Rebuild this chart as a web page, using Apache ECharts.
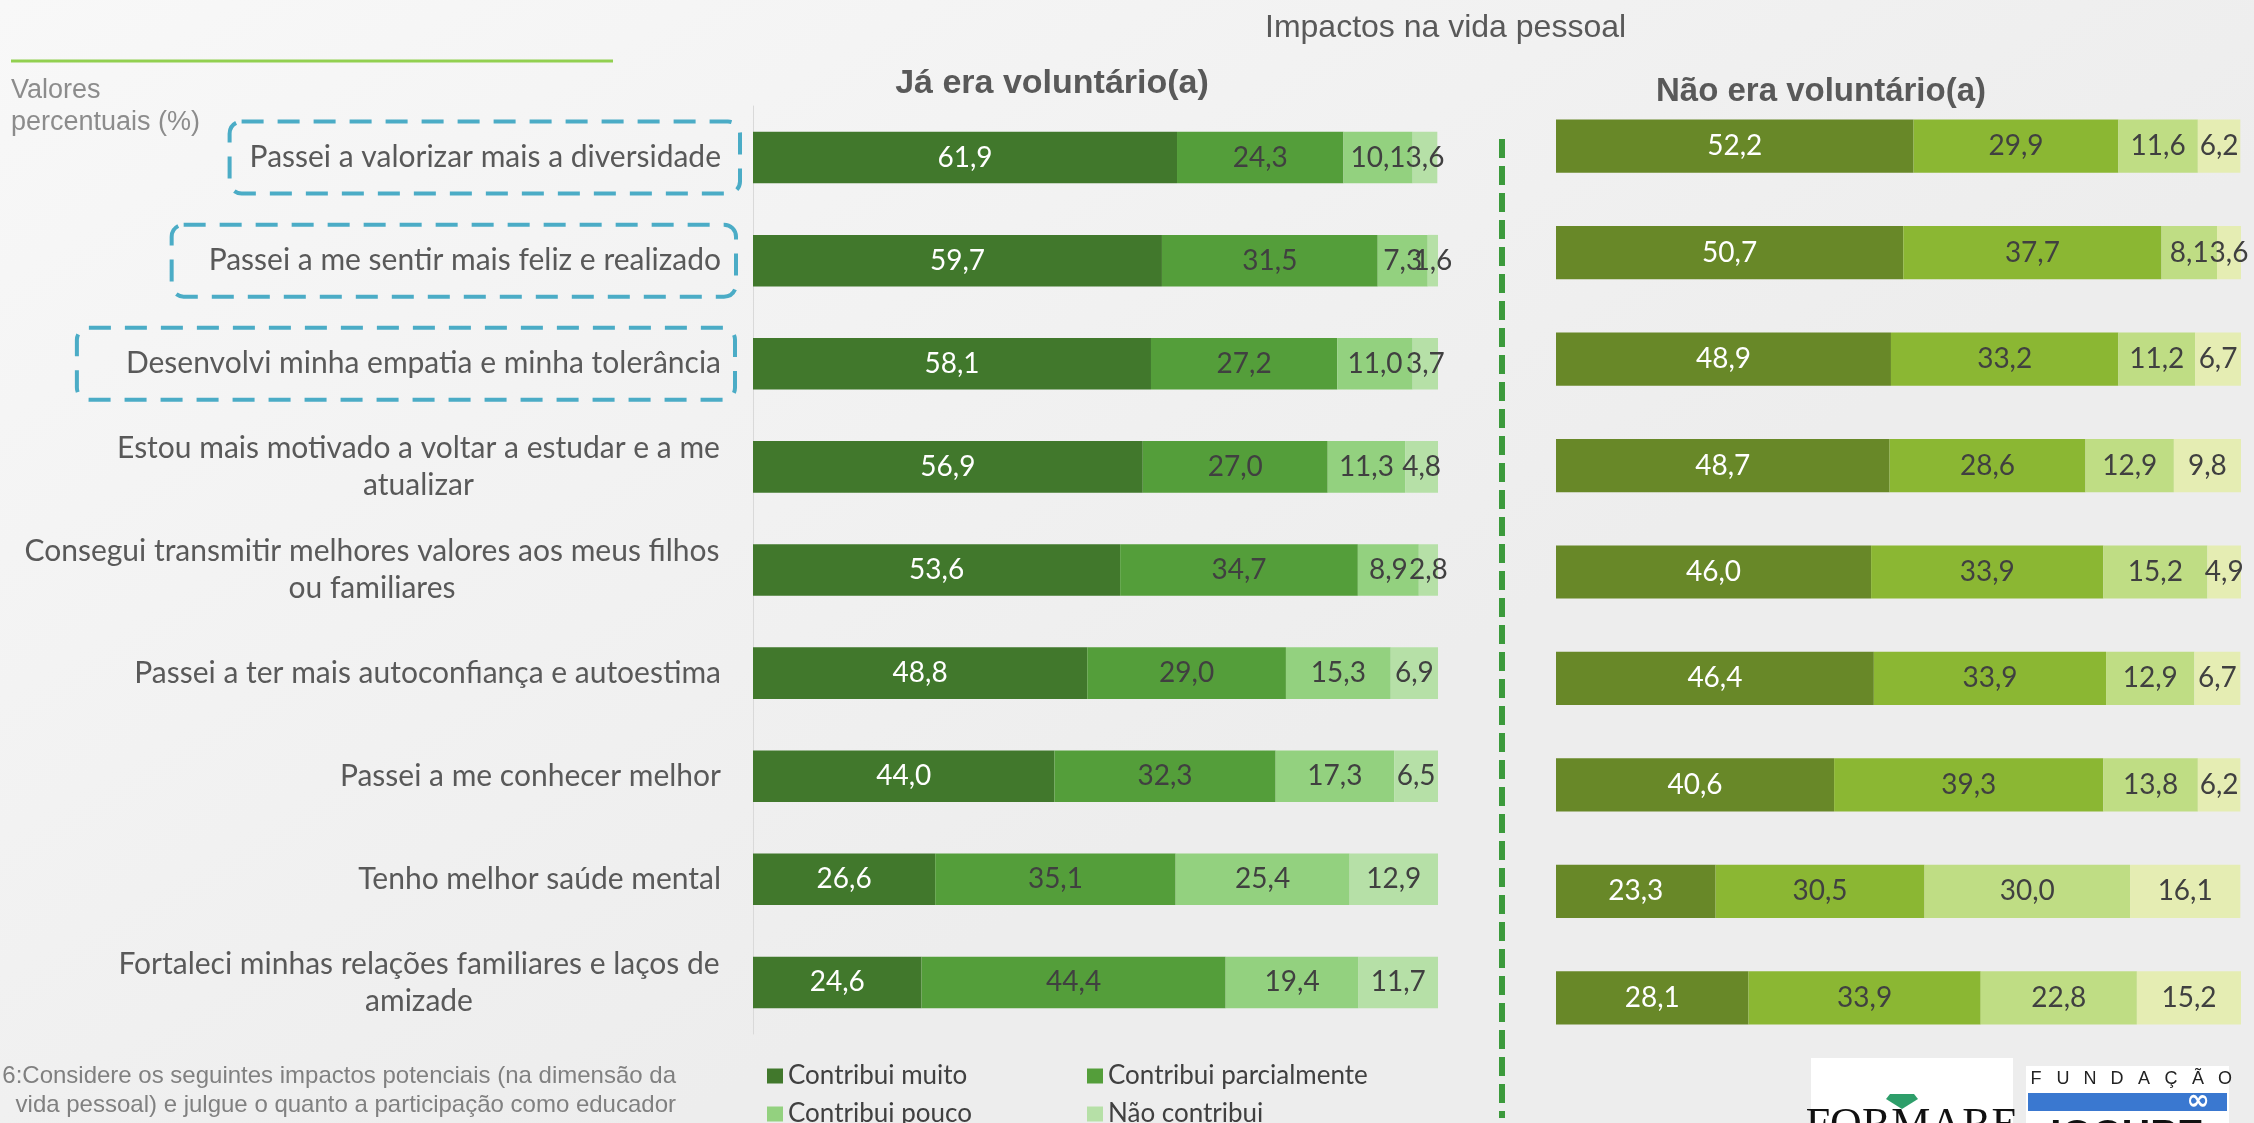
<!DOCTYPE html>
<html>
<head>
<meta charset="utf-8">
<script src="https://cdn.jsdelivr.net/npm/echarts@6/dist/echarts.min.js"></script>
<style>
html,body{margin:0;padding:0;background:#F5F5F5;}
#chart{width:2254px;height:1123px;}
</style>
</head>
<body>
<div id="chart"></div>
<script>
// ---------- DATA ----------
const categories = [
  'Passei a valorizar mais a diversidade',
  'Passei a me sentir mais feliz e realizado',
  'Desenvolvi minha empatia e minha tolerância',
  'Estou mais motivado a voltar a estudar e a me\natualizar',
  'Consegui transmitir melhores valores aos meus filhos\nou familiares',
  'Passei a ter mais autoconfiança e autoestima',
  'Passei a me conhecer melhor',
  'Tenho melhor saúde mental',
  'Fortaleci minhas relações familiares e laços de\namizade'
];
const seriesNames = ['Contribui muito', 'Contribui parcialmente', 'Contribui pouco', 'Não contribui'];
const highlighted = [0, 1, 2];

// Já era voluntário(a)
const jaMuito    = [61.9, 59.7, 58.1, 56.9, 53.6, 48.8, 44.0, 26.6, 24.6];
const jaParcial  = [24.3, 31.5, 27.2, 27.0, 34.7, 29.0, 32.3, 35.1, 44.4];
const jaPouco    = [10.1,  7.3, 11.0, 11.3,  8.9, 15.3, 17.3, 25.4, 19.4];
const jaNao      = [ 3.6,  1.6,  3.7,  4.8,  2.8,  6.9,  6.5, 12.9, 11.7];

// Não era voluntário(a)
const naoMuito   = [52.2, 50.7, 48.9, 48.7, 46.0, 46.4, 40.6, 23.3, 28.1];
const naoParcial = [29.9, 37.7, 33.2, 28.6, 33.9, 33.9, 39.3, 30.5, 33.9];
const naoPouco   = [11.6,  8.1, 11.2, 12.9, 15.2, 12.9, 13.8, 30.0, 22.8];
const naoNao     = [ 6.2,  3.6,  6.7,  9.8,  4.9,  6.7,  6.2, 16.1, 15.2];

const titleText = 'Impactos na vida pessoal';
const leftTitle = 'Já era voluntário(a)';
const rightTitle = 'Não era voluntário(a)';
const unitText = 'Valores\npercentuais (%)';
const noteLines = [
  '6:Considere os seguintes impactos potenciais (na dimensão da',
  'vida pessoal) e julgue o quanto a participação como educador'
];

// ---------- STYLE ----------
const leftColors  = ['#41782C', '#549E3A', '#93D17F', '#B6E0A7'];
const rightColors = ['#688828', '#8BB733', '#BFDD84', '#E5EDB3'];
const labelColors = ['#FFFFFF', '#404040', '#404040', '#404040'];
const catFont = 30;
const catFamily = 'Lato';
const catColor = '#595959';
const catLineHeight = 37;
const valFont = 28;
const boxLeftPad = [20, 37, 49];
const boxRight = [740, 736, 735];

const measureCtx = document.createElement('canvas').getContext('2d');
function textWidth(t, size, family, weight) {
  measureCtx.font = (weight || 'normal') + ' ' + size + 'px ' + family;
  return measureCtx.measureText(t).width;
}

// rich styles so that wrapped labels have their lines centred
const rich = {};
categories.forEach((c, i) => {
  const lines = c.split('\n');
  if (lines.length > 1) {
    const w = Math.max.apply(null, lines.map(l => textWidth(l, catFont, catFamily)));
    rich['w' + i] = {width: Math.ceil(w) + 2, align: 'center', fontSize: catFont,
                     fontFamily: catFamily, color: catColor, lineHeight: catLineHeight};
  }
});

const fmt = v => v.toFixed(1).replace('.', ',');

function makeSeries(name, data, color, lblColor, axisIdx, stack) {
  return {
    type: 'bar', name: name, stack: stack, data: data,
    xAxisIndex: axisIdx, yAxisIndex: axisIdx,
    barWidth: '50%',
    itemStyle: {color: color},
    label: {show: true, position: 'inside', color: lblColor, fontSize: valFont,
            fontFamily: catFamily, formatter: p => fmt(p.value)},
    emphasis: {disabled: true},
    animation: false
  };
}

const leftData = [jaMuito, jaParcial, jaPouco, jaNao];
const rightData = [naoMuito, naoParcial, naoPouco, naoNao];
const series = [];
seriesNames.forEach((n, k) => series.push(makeSeries(n, leftData[k], leftColors[k], labelColors[k], 0, 'ja')));
seriesNames.forEach((n, k) => series.push(makeSeries(n, rightData[k], rightColors[k], labelColors[k], 1, 'nao')));

// legend: 2 x 2 layout, one legend per item
const legendPos = [[762, 1058], [1082, 1058], [762, 1096], [1082, 1096]];
const legends = seriesNames.map((n, k) => ({
  orient: 'horizontal', left: legendPos[k][0], top: legendPos[k][1],
  itemWidth: 16, itemHeight: 15, icon: 'rect', selectedMode: false,
  textStyle: {fontSize: 26, fontFamily: catFamily, color: '#404040'},
  data: [n]
}));

const baseGraphics = [
  {type: 'line', shape: {x1: 11, y1: 61, x2: 613, y2: 61}, style: {stroke: '#92D050', lineWidth: 3}},
  {type: 'text', x: 11, y: 75, style: {text: unitText, font: '27px "Liberation Sans"', fill: '#8C8C8C', lineHeight: 32, textVerticalAlign: 'top'}},
  {type: 'text', x: 1265, y: 28, style: {text: titleText, font: '32px "Liberation Sans"', fill: '#595959', textVerticalAlign: 'middle'}},
  {type: 'text', x: 1052, y: 84, style: {text: leftTitle, font: 'bold 34px "Liberation Sans"', fill: '#595959', textAlign: 'center', textVerticalAlign: 'middle'}},
  {type: 'text', x: 1821, y: 92, style: {text: rightTitle, font: 'bold 33px "Liberation Sans"', fill: '#595959', textAlign: 'center', textVerticalAlign: 'middle'}},
  {type: 'line', shape: {x1: 1502, y1: 139, x2: 1502, y2: 1118}, style: {stroke: '#3C9A3C', lineWidth: 6, lineDash: [19, 8]}},
  {type: 'text', x: 676, y: 1076, style: {text: noteLines[0], font: '24px "Liberation Sans"', fill: '#808080', textAlign: 'right', textVerticalAlign: 'middle'}},
  {type: 'text', x: 676, y: 1105, style: {text: noteLines[1], font: '24px "Liberation Sans"', fill: '#808080', textAlign: 'right', textVerticalAlign: 'middle'}},
  // logos
  {type: 'rect', shape: {x: 1811, y: 1058, width: 202, height: 70}, style: {fill: '#FFFFFF'}},
  {type: 'polygon', shape: {points: [[1890, 1094], [1914, 1094], [1918, 1099], [1902, 1109], [1886, 1099]]}, style: {fill: '#2E9E6A'}},
  {type: 'text', x: 1912, y: 1104, style: {text: 'FORMARE', font: '44px "Liberation Serif"', fill: '#111111', textAlign: 'center', textVerticalAlign: 'top'}},
  {type: 'rect', shape: {x: 2026, y: 1066, width: 203, height: 60}, style: {fill: '#FFFFFF'}},
  {type: 'rect', shape: {x: 2028, y: 1093, width: 199, height: 18}, style: {fill: '#3A78D0'}},
  {type: 'text', x: 2198, y: 1102, style: {text: '∞', font: 'bold 28px "DejaVu Sans"', fill: '#FFFFFF', textAlign: 'center', textVerticalAlign: 'middle'}},
  {type: 'text', x: 2127, y: 1117, style: {text: 'IOCHPE', font: 'bold 40px "Liberation Sans"', fill: '#111111', textAlign: 'center', textVerticalAlign: 'top'}}
];
'FUNDAÇÃO'.split('').forEach((ch, i) => {
  baseGraphics.push({type: 'text', x: 2036 + i * 27, y: 1079,
    style: {text: ch, font: '18px "Liberation Sans"', fill: '#222222', textAlign: 'center', textVerticalAlign: 'middle'}});
});

const option = {
  backgroundColor: {type: 'linear', x: 0, y: 0, x2: 0.3, y2: 1,
    colorStops: [{offset: 0, color: '#F8F8F8'}, {offset: 1, color: '#EDEDED'}]},
  animation: false,
  grid: [
    {left: 753, width: 685, top: 106, height: 928},
    {left: 1556, width: 685, top: 93, height: 958}
  ],
  xAxis: [
    {type: 'value', gridIndex: 0, min: 0, max: 100, show: false},
    {type: 'value', gridIndex: 1, min: 0, max: 100, show: false}
  ],
  yAxis: [
    {type: 'category', gridIndex: 0, data: categories, inverse: true,
     axisLine: {show: true, lineStyle: {color: '#D9D9D9', width: 1}},
     axisTick: {show: false},
     axisLabel: {margin: 32, fontSize: catFont, fontFamily: catFamily, color: catColor, lineHeight: catLineHeight,
       formatter: (v, i) => {
         const lines = v.split('\n');
         if (lines.length === 1) return v;
         return lines.map(l => '{w' + i + '|' + l + '}').join('\n');
       },
       rich: rich}},
    {type: 'category', gridIndex: 1, data: categories, inverse: true, show: false}
  ],
  legend: legends,
  series: series,
  graphic: {elements: baseGraphics}
};

const chart = echarts.init(document.getElementById('chart'), null, {renderer: 'canvas'});
chart.setOption(option);

// dashed highlight boxes around the first three category labels
const labelRight = 753 - 32;
const boxes = highlighted.map((i, k) => {
  const yc = chart.convertToPixel({yAxisIndex: 0}, categories[i]);
  const w = textWidth(categories[i], catFont, catFamily);
  const x0 = labelRight - w - boxLeftPad[k];
  return {type: 'rect', z: 50,
    shape: {x: x0, y: yc - 36, width: boxRight[k] - x0, height: 72, r: 12},
    style: {fill: 'none', stroke: '#4BACC6', lineWidth: 4, lineDash: [22, 14]}};
});
chart.setOption({graphic: {elements: baseGraphics.concat(boxes)}});
</script>
</body>
</html>
